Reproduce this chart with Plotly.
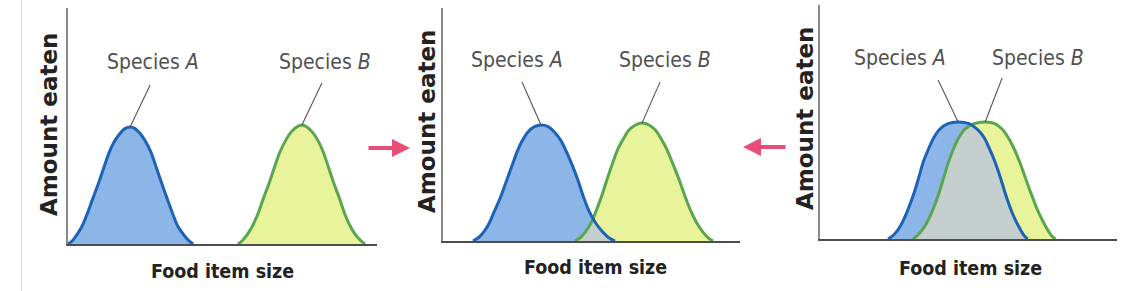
import numpy as np
import plotly.graph_objects as go

W, H = 1144, 291

# ---------------- data (x: food item size, y: amount eaten; arbitrary 0-100 units) ----------------
p1_a_x = [0, 1.5, 2.9, 4.5, 6.1, 7.9, 9.9, 11.7, 13.3, 14.9, 16.7, 18.4, 20.1,
          21.7, 23.5, 25.2, 26.9, 28.5, 30.3, 32.2, 34.0, 35.6, 37.4, 39.0, 40.5]
p1_a_y = [0, 1.5, 4.0, 7.4, 12.4, 18.8, 25.8, 32.7, 38.7, 43.2, 46.6, 48.9, 49.6,
          48.9, 46.6, 43.2, 38.7, 32.7, 25.8, 18.8, 12.4, 7.4, 4.0, 1.5, 0]
p1_b_x = [55.0, 56.5, 58.0, 59.7, 61.4, 63.2, 65.2, 67.0, 68.7, 70.4, 72.2, 74.0, 75.7,
          77.3, 79.1, 80.9, 82.5, 84.1, 85.9, 87.9, 89.6, 91.3, 93.0, 94.7, 96.1]
p1_b_y = [0, 1.5, 4.0, 7.6, 12.6, 19.2, 26.2, 33.3, 39.3, 43.8, 47.4, 49.6, 50.4,
          49.6, 47.4, 43.8, 39.3, 33.3, 26.2, 19.2, 12.6, 7.6, 4.0, 1.5, 0]

p2_a_x = [10.1, 12.0, 13.8, 15.5, 17.2, 19.4, 21.4, 23.4, 25.1, 26.8, 28.6, 30.8, 33.0,
          35.4, 37.5, 39.6, 41.4, 43.4, 45.5, 47.3, 49.3, 51.5, 53.7, 55.7, 57.9]
p2_a_y = [0, 1.5, 4.0, 7.5, 12.5, 18.9, 25.9, 32.9, 38.8, 43.3, 46.8, 49.1, 49.8,
          49.1, 46.8, 43.3, 38.8, 32.9, 25.9, 18.9, 12.5, 7.5, 4.0, 1.5, 0]
p2_b_x = [44.4, 46.3, 48.0, 49.8, 51.5, 53.4, 55.2, 57.1, 58.9, 60.8, 62.6, 64.8, 67.0,
          69.4, 71.5, 73.4, 75.3, 77.3, 79.5, 81.5, 83.5, 85.5, 87.4, 89.2, 90.9]
p2_b_y = [0, 1.5, 4.0, 7.6, 12.7, 19.2, 26.3, 33.4, 39.5, 44.0, 47.6, 49.8, 50.6,
          49.8, 47.6, 44.0, 39.5, 33.4, 26.3, 19.2, 12.7, 7.6, 4.0, 1.5, 0]

p3_a_x = [22.9, 24.6, 26.3, 27.9, 29.6, 31.5, 33.2, 34.8, 36.7, 38.4, 40.4, 43.1, 46.5,
          50.2, 52.9, 55.2, 56.9, 58.9, 60.8, 62.5, 64.3, 66.0, 67.5, 68.7, 69.9]
p3_a_y = [0, 1.5, 4.0, 7.5, 12.5, 19.0, 26.0, 33.0, 39.0, 43.5, 47.0, 49.3, 50.0,
          49.3, 47.0, 43.5, 39.0, 33.0, 26.0, 19.0, 12.5, 7.5, 4.0, 1.5, 0]
p3_b_x = [31.3, 32.8, 34.5, 36.2, 38.0, 39.9, 41.6, 43.3, 45.1, 46.8, 48.8, 51.9, 55.6,
          58.9, 61.3, 63.3, 65.2, 67.2, 69.2, 71.2, 73.2, 75.1, 76.6, 77.9, 79.3]
p3_b_y = [0, 1.5, 4.0, 7.5, 12.5, 19.0, 26.0, 33.0, 39.0, 43.5, 47.0, 49.3, 50.0,
          49.3, 47.0, 43.5, 39.0, 33.0, 26.0, 19.0, 12.5, 7.5, 4.0, 1.5, 0]

species_labels = ["Species <i>A</i>", "Species <i>B</i>"]
x_title = "Food item size"
y_title = "Amount eaten"

# ---------------- styling ----------------
A_LINE, A_FILL = "#1c63b7", "#8cb6e8"
B_LINE, B_FILL = "#5aa64e", "#e9f39b"
OVERLAP_FILL = "#c5d0ce"
ARROW = "#ea4c78"
LABEL_FONT = dict(family="DejaVu Sans Condensed, Liberation Sans Narrow, sans-serif", size=21, color="#505050")
XT_FONT = dict(family="DejaVu Sans Condensed, Liberation Sans Narrow, sans-serif", size=19.5, color="#222222")
YT_FONT = dict(family="DejaVu Sans, Arial, sans-serif", size=23, color="#222222")

# panel frames in pixels: (x_left, x_right, y_top, y_bottom)
frames = [(68, 377, 8, 244), (443, 740, 8, 241), (820, 1117, 5, 239)]
ytitle_pos = [(49, 125), (427, 122), (805, 119)]
xtitle_pos = [(222, 271), (595, 267), (970, 268)]
# label offsets (px) relative to curve peak: (label dx, label dy, line dx, line dy)
label_off = [
    [(23, 65, 20, 42), (23, 63, 20, 42)],
    [(-24, 65, -19, 43), (23, 63, 18, 41)],
    [(-58, 64, -20, 42), (53, 64, 17, 44)],
]

panels = [
    (p1_a_x, p1_a_y, p1_b_x, p1_b_y),
    (p2_a_x, p2_a_y, p2_b_x, p2_b_y),
    (p3_a_x, p3_a_y, p3_b_x, p3_b_y),
]

fig = go.Figure()
annotations = []
shapes = []

for i, (ax_, ay_, bx_, by_) in enumerate(panels):
    xr = "x" if i == 0 else f"x{i+1}"
    yr = "y" if i == 0 else f"y{i+1}"
    common = dict(xaxis=xr, yaxis=yr, mode="lines", hoverinfo="skip", showlegend=False)
    # fills
    fig.add_trace(go.Scatter(x=ax_, y=ay_, fill="tozeroy", fillcolor=A_FILL,
                             line=dict(width=0, shape="spline", smoothing=1), **common))
    fig.add_trace(go.Scatter(x=bx_, y=by_, fill="tozeroy", fillcolor=B_FILL,
                             line=dict(width=0, shape="spline", smoothing=1), **common))
    # overlap region (derived from the two curves)
    lo, hi = max(ax_[0], bx_[0]), min(ax_[-1], bx_[-1])
    if hi > lo:
        g = np.linspace(lo, hi, 300)
        ov = np.minimum(np.interp(g, ax_, ay_), np.interp(g, bx_, by_))
        fig.add_trace(go.Scatter(x=g, y=ov, fill="tozeroy", fillcolor=OVERLAP_FILL,
                                 line=dict(width=0), **common))
    # outlines
    fig.add_trace(go.Scatter(x=bx_, y=by_, line=dict(color=B_LINE, width=3, shape="spline", smoothing=1), **common))
    fig.add_trace(go.Scatter(x=ax_, y=ay_, line=dict(color=A_LINE, width=3, shape="spline", smoothing=1), **common))

    # species labels with leader lines, anchored to each curve's peak
    for j, (cx, cy) in enumerate([(ax_, ay_), (bx_, by_)]):
        k = int(np.argmax(cy))
        px, py = cx[k], cy[k]
        ldx, ldy, lnx, lny = label_off[i][j]
        annotations.append(dict(x=px, y=py, xref=xr, yref=yr, text=species_labels[j], showarrow=False,
                                xshift=ldx, yshift=ldy, xanchor="center", yanchor="middle", font=LABEL_FONT))
        shapes.append(dict(type="line", xref=xr, yref=yr, xsizemode="pixel", ysizemode="pixel",
                           xanchor=px, yanchor=py, x0=0, y0=0, x1=lnx, y1=lny,
                           line=dict(color="#555555", width=1.1)))

    # axis titles
    tx, ty = ytitle_pos[i]
    annotations.append(dict(x=tx / W, y=1 - ty / H, xref="paper", yref="paper", text=f"<b>{y_title}</b>",
                            textangle=-90, showarrow=False, xanchor="center", yanchor="middle", font=YT_FONT))
    tx, ty = xtitle_pos[i]
    annotations.append(dict(x=tx / W, y=1 - ty / H, xref="paper", yref="paper", text=f"<b>{x_title}</b>",
                            showarrow=False, xanchor="center", yanchor="middle", font=XT_FONT))

# pink arrows between panels
annotations.append(dict(x=410 / W, y=1 - 148 / H, xref="paper", yref="paper", ax=-43, ay=0, text="",
                        showarrow=True, arrowhead=2, arrowsize=0.9, arrowwidth=4, arrowcolor=ARROW))
annotations.append(dict(x=743 / W, y=1 - 147 / H, xref="paper", yref="paper", ax=44, ay=0, text="",
                        showarrow=True, arrowhead=2, arrowsize=0.9, arrowwidth=4, arrowcolor=ARROW))

# faint frame line at left edge
shapes.append(dict(type="line", xref="paper", yref="paper", x0=21.5 / W, x1=21.5 / W, y0=0, y1=1,
                   line=dict(color="#dadada", width=1)))

layout_axes = {}
for i, (xl, xrp, yt, yb) in enumerate(frames):
    xk = "xaxis" if i == 0 else f"xaxis{i+1}"
    yk = "yaxis" if i == 0 else f"yaxis{i+1}"
    anchor_y = "y" if i == 0 else f"y{i+1}"
    anchor_x = "x" if i == 0 else f"x{i+1}"
    layout_axes[xk] = dict(domain=[xl / W, xrp / W], range=[0, 100], anchor=anchor_y,
                           showline=True, linecolor="#4d4d4d", linewidth=2,
                           showgrid=False, zeroline=False, showticklabels=False, ticks="", fixedrange=True)
    layout_axes[yk] = dict(domain=[1 - yb / H, 1 - yt / H], range=[0, 100], anchor=anchor_x,
                           showline=True, linecolor="#8a8a8a", linewidth=1.5,
                           showgrid=False, zeroline=False, showticklabels=False, ticks="", fixedrange=True)

fig.update_layout(width=W, height=H, margin=dict(l=0, r=0, t=0, b=0),
                  paper_bgcolor="white", plot_bgcolor="white",
                  annotations=annotations, shapes=shapes, **layout_axes)

fig.write_html("out.html", config={"displayModeBar": False})
